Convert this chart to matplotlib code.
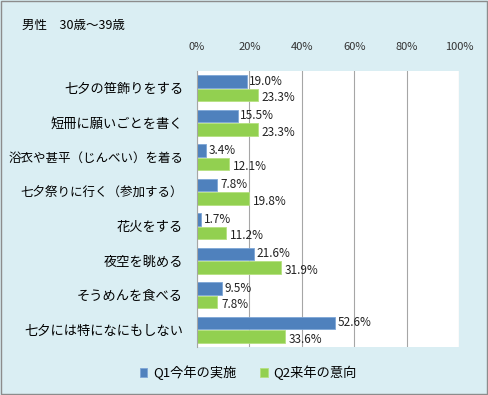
import matplotlib
matplotlib.use("Agg")
import matplotlib.pyplot as plt
import numpy as np
from matplotlib.patches import Rectangle

plt.rcParams['font.family'] = ['Noto Sans CJK JP', 'DejaVu Sans']

categories = ["七夕の笹飾りをする", "短冊に願いごとを書く", "浴衣や甚平（じんべい）を着る",
              "七夕祭りに行く（参加する）", "花火をする", "夜空を眺める",
              "そうめんを食べる", "七夕には特になにもしない"]
q1 = [19.0, 15.5, 3.4, 7.8, 1.7, 21.6, 9.5, 52.6]
q2 = [23.3, 23.3, 12.1, 19.8, 11.2, 31.9, 7.8, 33.6]
series_names = ["Q1今年の実施", "Q2来年の意向"]
ticks = [0, 20, 40, 60, 80, 100]
title = "男性\u300030歳～39歳"

bg = "#DAEEF3"
blue = "#4F81BD"
green = "#92D050"

fig = plt.figure(figsize=(4.88, 3.95), dpi=100)
fig.patch.set_facecolor(bg)
fig.patches.append(Rectangle((0.002, 0.002), 0.996, 0.996, transform=fig.transFigure,
                             fill=False, edgecolor="#8c8c8c", linewidth=1.0))

ax = fig.add_axes([197/488, 1-347/395, (459-197)/488, (347-71)/395])
ax.set_facecolor("white")

n = len(categories)
y = np.arange(n)
h = 0.36
ax.barh(y - h/2 - 0.02, q1, height=h, color=blue, edgecolor="#7ea6d6", linewidth=0.6, label=series_names[0])
ax.barh(y + h/2 + 0.02, q2, height=h, color=green, edgecolor="#b5e080", linewidth=0.6, label=series_names[1])

for i in range(n):
    ax.text(q1[i] + 1.0, y[i] - h/2 - 0.02, f"{q1[i]:.1f}%", va="center", ha="left", fontsize=8.5, color="#222222")
    ax.text(q2[i] + 1.5, y[i] + h/2 + 0.02 + 0.08, f"{q2[i]:.1f}%", va="center", ha="left", fontsize=8.5, color="#222222")

ax.set_xlim(0, 100)
ax.set_ylim(n - 0.5, -0.5)
ax.set_xticks(ticks)
ax.set_xticklabels([f"{t}%" for t in ticks], fontsize=8, color="#333333")
ax.xaxis.tick_top()
ax.tick_params(axis="x", length=0, pad=14)
ax.set_yticks(y)
ax.set_yticklabels(categories, fontsize=9.5)
for lbl in ax.get_yticklabels():
    if "（" in lbl.get_text():
        lbl.set_fontsize(9)
ax.tick_params(axis="y", length=0, pad=10)
ax.grid(axis="x", color="#a6a6a6", linewidth=0.8)
ax.set_axisbelow(True)
for s in ["top", "right", "bottom"]:
    ax.spines[s].set_visible(False)
ax.spines["left"].set_color("#a6a6a6")

fig.text(22/488, 1-25/395, title, fontsize=9, va="center", ha="left")

handles, labels = ax.get_legend_handles_labels()
fig.legend(handles, labels, loc="center", bbox_to_anchor=(248/488, 1-373/395), ncol=2,
           frameon=False, fontsize=9.5, handlelength=0.6, handleheight=0.6, columnspacing=1.8, handletextpad=0.4)

fig.savefig("out.png", dpi=100, facecolor=bg)
